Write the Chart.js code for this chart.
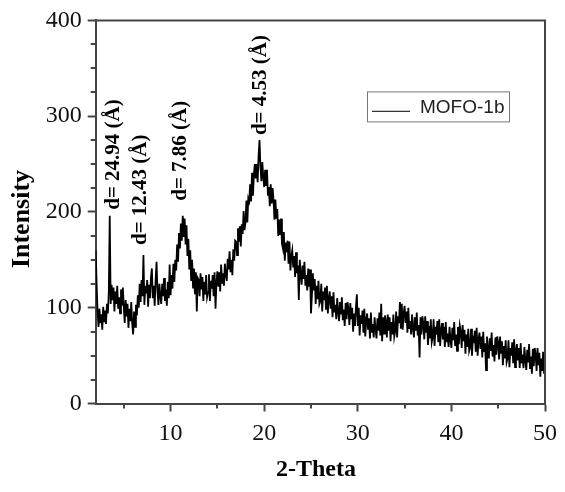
<!DOCTYPE html>
<html>
<head>
<meta charset="utf-8">
<script src="https://cdn.jsdelivr.net/npm/chart.js@4.4.1/dist/chart.umd.min.js"></script>
<style>
  html, body { margin: 0; padding: 0; background: #fff; }
  canvas { display: block; }
</style>
</head>
<body>
<canvas id="xrd" width="565" height="492"></canvas>
<script>
// Powder XRD scan of MOFO-1b, 2θ from 2° to 50° in 0.1° steps
const thetaStart = 2.0;
const thetaStep = 0.1;

// 2.0 – 10.9°
const intensity02to11 = [
  160, 124, 96, 80, 99, 84, 93, 77, 101, 85,
  97, 83, 104, 94, 116, 196, 104, 124, 108, 121,
  96, 117, 104, 123, 99, 111, 94, 119, 102, 121,
  101, 84, 108, 91, 104, 79, 99, 86, 106, 83,
  72, 96, 80, 103, 92, 113, 100, 125, 106, 129,
  112, 155, 103, 123, 115, 129, 101, 124, 110, 131,
  141, 110, 123, 102, 129, 148, 117, 103, 125, 112,
  104, 125, 112, 131, 107, 119, 102, 127, 110, 145,
  113, 134, 120, 146, 127, 150, 139, 166, 148, 178
];
// 11.0 – 19.9°
const intensity11to20 = [
  162, 188, 170, 196, 174, 193, 166, 186, 154, 172,
  140, 160, 128, 150, 121, 141, 114, 137, 96, 131,
  129, 112, 136, 119, 132, 107, 127, 114, 134, 111,
  116, 135, 107, 128, 120, 134, 112, 137, 99, 126,
  138, 122, 137, 117, 145, 125, 136, 123, 146, 135,
  128, 151, 140, 159, 137, 150, 134, 161, 149, 170,
  169, 155, 183, 169, 185, 164, 187, 177, 201, 181,
  189, 212, 189, 214, 211, 229, 211, 241, 217, 239,
  250, 235, 250, 231, 259, 275, 247, 232, 252, 237
];
// 20.0 – 29.9°
const intensity20to30 = [
  226, 244, 228, 244, 217, 226, 206, 229, 209, 225,
  212, 192, 213, 193, 203, 175, 192, 176, 193, 167,
  162, 179, 149, 168, 158, 170, 146, 169, 139, 154,
  160, 142, 154, 132, 158, 136, 144, 108, 150, 136,
  124, 144, 130, 148, 123, 134, 118, 141, 122, 140,
  94, 113, 136, 118, 130, 104, 123, 109, 128, 104,
  107, 125, 96, 117, 108, 121, 98, 123, 94, 110,
  117, 99, 112, 90, 116, 95, 103, 88, 110, 96,
  86, 106, 93, 111, 87, 98, 81, 105, 88, 106,
  99, 82, 105, 88, 100, 75, 94, 81, 100, 114
];
// 30.0 – 39.9°
const intensity30to40 = [
  81, 100, 71, 92, 83, 97, 74, 99, 70, 87,
  94, 77, 89, 68, 95, 74, 83, 69, 90, 77,
  68, 89, 76, 95, 71, 104, 65, 90, 73, 92,
  86, 69, 93, 76, 90, 65, 85, 72, 93, 70,
  76, 96, 69, 91, 84, 106, 78, 104, 77, 94,
  102, 84, 96, 74, 100, 78, 86, 72, 93, 79,
  69, 90, 76, 95, 71, 82, 48, 90, 72, 91,
  84, 67, 91, 74, 86, 61, 81, 68, 88, 64,
  69, 88, 60, 80, 72, 86, 64, 88, 60, 77,
  84, 67, 80, 59, 85, 64, 73, 59, 80, 67
];
// 40.0 – 50.0°
const intensity40to50 = [
  58, 79, 66, 85, 60, 72, 55, 80, 62, 81,
  75, 58, 82, 65, 77, 52, 72, 59, 78, 55,
  59, 78, 50, 71, 63, 76, 54, 79, 50, 67,
  74, 57, 70, 48, 75, 54, 63, 35, 70, 57,
  47, 68, 55, 74, 49, 61, 44, 69, 51, 70,
  63, 46, 70, 53, 65, 40, 60, 47, 66, 43,
  47, 66, 38, 58, 50, 64, 42, 67, 38, 55,
  62, 45, 58, 37, 63, 42, 51, 37, 59, 45,
  35, 56, 43, 62, 37, 49, 31, 57, 39, 58,
  51, 34, 58, 40, 53, 28, 47, 34, 54, 31,
  40
];

const xTickValues = [10, 20, 30, 40, 50];
const xMinorTickValues = [5, 15, 25, 35, 45];
const yTickValues = [0, 100, 200, 300, 400];
const yMinorTickValues = [25, 50, 75, 125, 150, 175, 225, 250, 275, 325, 350, 375];

// Indexed reflections and their d-spacings
const peakTheta = [3.5, 7.1, 11.3, 19.5];
const peakLabels = ['d= 24.94 (Å)', 'd= 12.43 (Å)', 'd= 7.86 (Å)', 'd= 4.53 (Å)'];

const seriesName = 'MOFO-1b';
const xTitle = '2-Theta';
const yTitle = 'Intensity';

const intensity = [].concat(intensity02to11, intensity11to20, intensity20to30,
                            intensity30to40, intensity40to50);
const scan = intensity.map((v, i) => ({ x: +(thetaStart + i * thetaStep).toFixed(1), y: v }));

const AXIS_COLOR = '#444';
const SERIF = '"Liberation Serif", "Times New Roman", serif';

// frame, minor ticks, axis titles, peak labels and legend
const decorations = {
  id: 'decorations',
  afterDraw(chart) {
    const { ctx, chartArea: a, scales: { x, y } } = chart;
    ctx.save();

    // top and right frame lines
    ctx.strokeStyle = AXIS_COLOR;
    ctx.lineWidth = 2;
    ctx.beginPath();
    ctx.moveTo(a.left, a.top);
    ctx.lineTo(a.right, a.top);
    ctx.lineTo(a.right, a.bottom);
    ctx.stroke();

    // minor ticks
    ctx.beginPath();
    xMinorTickValues.forEach(v => {
      const px = Math.round(x.getPixelForValue(v));
      ctx.moveTo(px, a.bottom);
      ctx.lineTo(px, a.bottom + 5);
    });
    yMinorTickValues.forEach(v => {
      const py = Math.round(y.getPixelForValue(v));
      ctx.moveTo(a.left - 5, py);
      ctx.lineTo(a.left, py);
    });
    ctx.stroke();

    // axis titles
    ctx.fillStyle = '#000';
    ctx.font = 'bold 24px ' + SERIF;
    ctx.textAlign = 'center';
    ctx.textBaseline = 'middle';
    ctx.fillText(xTitle, 316, 470);
    ctx.save();
    ctx.translate(22, 219);
    ctx.rotate(-Math.PI / 2);
    ctx.font = 'bold 26px ' + SERIF;
    ctx.fillText(yTitle, 0, 0);
    ctx.restore();

    // d-spacing labels above the reflections
    const dx = [4, -3, -2, 1];
    const gap = [6, 10, 15, 5];
    ctx.font = 'bold 21px ' + SERIF;
    ctx.textAlign = 'left';
    ctx.textBaseline = 'middle';
    peakTheta.forEach((t, i) => {
      const idx = Math.round((t - thetaStart) / thetaStep);
      const px = x.getPixelForValue(t) + dx[i];
      const py = y.getPixelForValue(intensity[idx]) - gap[i];
      ctx.save();
      ctx.translate(px, py);
      ctx.rotate(-Math.PI / 2);
      ctx.fillText(peakLabels[i], 0, 0);
      ctx.restore();
    });

    // legend box
    const lx = a.right - 178, ly = a.top + 71;
    ctx.strokeStyle = '#777';
    ctx.lineWidth = 1;
    ctx.strokeRect(lx + 0.5, ly + 0.5, 142, 30);
    ctx.strokeStyle = '#333';
    ctx.lineWidth = 1.2;
    ctx.beginPath();
    ctx.moveTo(lx + 5, ly + 20);
    ctx.lineTo(lx + 43, ly + 20);
    ctx.stroke();
    ctx.fillStyle = '#222';
    ctx.font = '19px "Liberation Sans", Arial, sans-serif';
    ctx.textAlign = 'left';
    ctx.textBaseline = 'middle';
    ctx.fillText(chart.data.datasets[0].label, lx + 53, ly + 16);

    ctx.restore();
  }
};

new Chart(document.getElementById('xrd'), {
  type: 'line',
  data: {
    datasets: [{
      label: seriesName,
      data: scan,
      borderColor: '#000',
      borderWidth: 1.8,
      pointRadius: 0,
      tension: 0,
      fill: false
    }]
  },
  options: {
    responsive: false,
    animation: false,
    events: [],
    layout: { padding: { top: 16, right: 16.7, left: 0, bottom: 0 } },
    plugins: { legend: { display: false }, tooltip: { enabled: false } },
    scales: {
      x: {
        type: 'linear',
        min: 2,
        max: 50,
        afterBuildTicks: s => { s.ticks = xTickValues.map(v => ({ value: v })); },
        afterFit: s => { s.height = 88.5; },
        grid: { drawOnChartArea: false, drawTicks: true, tickLength: 8, tickWidth: 2, tickColor: AXIS_COLOR },
        border: { display: true, width: 2, color: AXIS_COLOR },
        ticks: { color: '#111', padding: 8, maxRotation: 0, font: { family: SERIF, size: 24 } }
      },
      y: {
        type: 'linear',
        min: 0,
        max: 400,
        afterBuildTicks: s => { s.ticks = yTickValues.map(v => ({ value: v })); },
        afterFit: s => { s.width = 95.7; },
        grid: { drawOnChartArea: false, drawTicks: true, tickLength: 8, tickWidth: 2, tickColor: AXIS_COLOR },
        border: { display: true, width: 2, color: AXIS_COLOR },
        ticks: { color: '#111', padding: 6, font: { family: SERIF, size: 24 } }
      }
    }
  },
  plugins: [decorations]
});
</script>
</body>
</html>
